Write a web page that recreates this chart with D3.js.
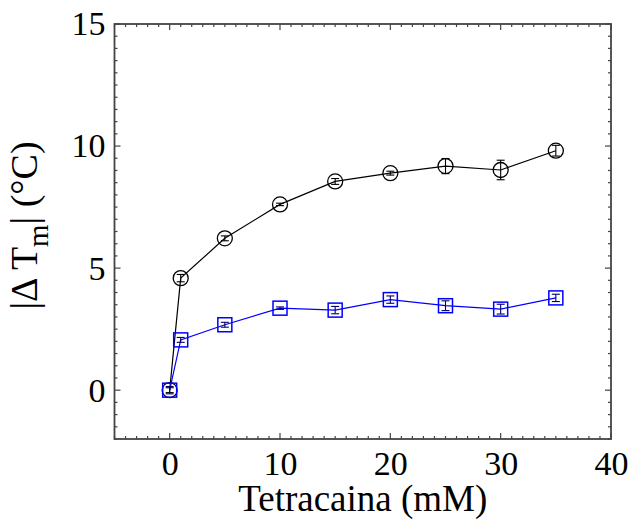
<!DOCTYPE html>
<html>
<head>
<meta charset="utf-8">
<script src="https://cdn.jsdelivr.net/npm/d3@7"></script>
<style>
  body { margin: 0; background: #fff; }
</style>
</head>
<body>
<div id="chart"></div>
<script>
const conc = [0, 1, 5, 10, 15, 20, 25, 30, 35];
const blackVals = [0, 4.59, 6.22, 7.61, 8.55, 8.89, 9.18, 9.02, 9.81];
const blackErr = [0.1, 0.15, 0.1, 0.05, 0.12, 0.08, 0.31, 0.4, 0.22];
const blueVals = [0, 2.06, 2.68, 3.36, 3.28, 3.71, 3.46, 3.32, 3.78];
const blueErr = [0.15, 0.1, 0.1, 0.05, 0.15, 0.15, 0.2, 0.2, 0.15];
const xTicks = [0, 10, 20, 30, 40];
const yTicks = [0, 5, 10, 15];

// pick a Times-like font if one is installed, else DejaVu Serif
function hasFont(name) {
  const ctx = document.createElement("canvas").getContext("2d");
  const probe = "Tetracaina (mM) 0123456789";
  const w = fb => { ctx.font = `40px '${name}', ${fb}`; return ctx.measureText(probe).width; };
  const base = fb => { ctx.font = `40px ${fb}`; return ctx.measureText(probe).width; };
  return w("monospace") !== base("monospace") || w("sans-serif") !== base("sans-serif");
}
const timesLike = ["Liberation Serif", "Tinos", "Times New Roman", "Nimbus Roman", "FreeSerif"].find(hasFont);
const serif = timesLike ? `'${timesLike}', serif` : "'DejaVu Serif', serif";
const tickSize = timesLike ? 34 : 30;
const titleSize = timesLike ? 37 : 34;

const W = 630, H = 520;
const margin = { top: 24, right: 19, bottom: 81, left: 114.5 };
const width = W - margin.left - margin.right;
const height = H - margin.top - margin.bottom;

const svg = d3.select("#chart")
  .append("svg")
  .attr("width", W)
  .attr("height", H)
  .append("g")
  .attr("transform", `translate(${margin.left},${margin.top})`);

const x = d3.scaleLinear().domain([-5, 40]).range([0, width]);
const y = d3.scaleLinear().domain([-2, 15]).range([height, 0]);

const frameColor = "#444";

// inward ticks on all four sides
const xMinor = d3.range(-5, 40.01, 1);
const yMinor = d3.range(-2, 15.01, 0.5);
const isMajorX = v => Math.abs(v % 10) < 1e-6;
const isMajorY = v => Math.abs(v % 5) < 1e-6;

const ticks = svg.append("g").attr("stroke", frameColor).attr("stroke-width", 1.2);
xMinor.forEach(v => {
  const len = isMajorX(v) ? 6 : 3;
  ticks.append("line").attr("x1", x(v)).attr("x2", x(v)).attr("y1", height).attr("y2", height - len);
  ticks.append("line").attr("x1", x(v)).attr("x2", x(v)).attr("y1", 0).attr("y2", len);
});
yMinor.forEach(v => {
  const len = isMajorY(v) ? 6 : 3;
  ticks.append("line").attr("y1", y(v)).attr("y2", y(v)).attr("x1", 0).attr("x2", len);
  ticks.append("line").attr("y1", y(v)).attr("y2", y(v)).attr("x1", width).attr("x2", width - len);
});

svg.append("rect")
  .attr("width", width)
  .attr("height", height)
  .attr("fill", "none")
  .attr("stroke", frameColor)
  .attr("stroke-width", 1.8);

// tick labels
svg.append("g")
  .attr("transform", `translate(0,${height})`)
  .call(d3.axisBottom(x).tickValues(xTicks).tickSize(0).tickPadding(12).tickFormat(d3.format("d")))
  .call(g => g.select(".domain").remove())
  .attr("font-family", serif)
  .attr("font-size", tickSize)
  .selectAll("text")
  .attr("fill", "#000");

svg.append("g")
  .call(d3.axisLeft(y).tickValues(yTicks).tickSize(0).tickPadding(9).tickFormat(d3.format("d")))
  .call(g => g.select(".domain").remove())
  .attr("font-family", serif)
  .attr("font-size", tickSize)
  .selectAll("text")
  .attr("fill", "#000");

// axis labels
svg.append("text")
  .attr("x", width / 2)
  .attr("y", height + 72)
  .attr("text-anchor", "middle")
  .attr("font-family", serif)
  .attr("font-size", titleSize)
  .text("Tetracaina (mM)");

const yl = svg.append("text")
  .attr("transform", `translate(${-78},${height / 2 - 6}) rotate(-90)`)
  .attr("text-anchor", "middle")
  .attr("font-family", serif)
  .attr("font-size", titleSize + 1);
yl.append("tspan").text("|Δ T");
yl.append("tspan").attr("font-size", titleSize * 0.78).attr("dy", 11).text("m");
yl.append("tspan").attr("dy", -11).text("| (°C)");

const series = [
  { vals: blackVals, err: blackErr, color: "#000", errColor: "#000", shape: "circle" },
  { vals: blueVals, err: blueErr, color: "#0000ff", errColor: "#000066", shape: "square" }
];

const line = d3.line()
  .x((d, i) => x(conc[i]))
  .y(d => y(d));

series.forEach(s => {
  const g = svg.append("g");
  g.append("path")
    .attr("d", line(s.vals))
    .attr("fill", "none")
    .attr("stroke", s.color)
    .attr("stroke-width", 1.2);

  const pts = g.selectAll(".pt")
    .data(s.vals.map((v, i) => ({ x: conc[i], v, e: s.err[i] })))
    .join("g")
    .attr("transform", d => `translate(${x(d.x)},${y(d.v)})`);

  if (s.shape === "circle") {
    pts.append("circle").attr("r", 7.5)
      .attr("fill", "none").attr("stroke", s.color).attr("stroke-width", 1.3);
  } else {
    pts.append("rect").attr("x", -7).attr("y", -7).attr("width", 14).attr("height", 14)
      .attr("fill", "none").attr("stroke", s.color).attr("stroke-width", 1.5);
  }

  // error bars
  const eb = pts.append("g").attr("stroke", s.errColor).attr("stroke-width", 1.1);
  eb.append("line").attr("x1", 0).attr("x2", 0)
    .attr("y1", d => y(d.v + d.e) - y(d.v)).attr("y2", d => y(d.v - d.e) - y(d.v));
  eb.append("line").attr("x1", -4).attr("x2", 4)
    .attr("y1", d => y(d.v + d.e) - y(d.v)).attr("y2", d => y(d.v + d.e) - y(d.v));
  eb.append("line").attr("x1", -4).attr("x2", 4)
    .attr("y1", d => y(d.v - d.e) - y(d.v)).attr("y2", d => y(d.v - d.e) - y(d.v));
});
</script>
</body>
</html>
